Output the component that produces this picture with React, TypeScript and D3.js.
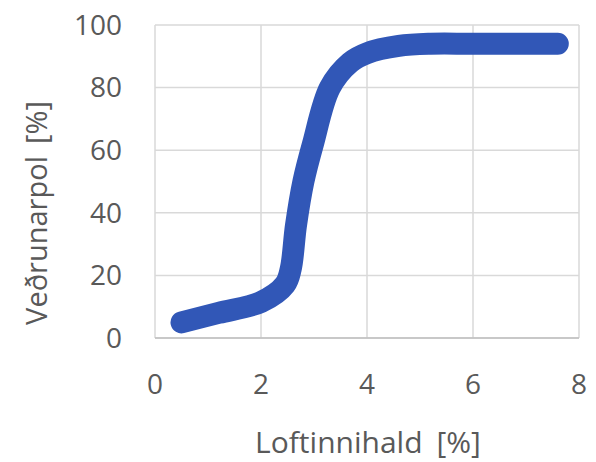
import React from "react";
import * as d3 from "d3";

const airContent = [0.5, 1.2, 2.0, 2.45, 2.56, 2.66, 2.8, 2.98, 3.3, 3.68, 4.0, 4.6, 5.2, 6.0, 7.6];
const weathering = [5, 8, 11.5, 17, 22, 36, 50, 62, 80, 88, 91, 93.3, 94, 94, 94];
const xTicks = [0, 2, 4, 6, 8];
const yTicks = [0, 20, 40, 60, 80, 100];
const xTitle = ["Loftinnihald", "[%]"];
const yTitle = ["Veðrunarpol", "[%]"];

export default function App() {
  const W = 596, H = 462;
  const left = 155, right = 579, top = 25, bottom = 338;
  const x = d3.scaleLinear().domain([0, 8]).range([left, right]);
  const y = d3.scaleLinear().domain([0, 100]).range([bottom, top]);
  const pts: [number, number][] = airContent.map((a, i) => [a, weathering[i]]);
  const line = d3
    .line<[number, number]>()
    .x((d) => x(d[0]))
    .y((d) => y(d[1]))
    .curve(d3.curveCatmullRom.alpha(0.5));
  const font = "'Open Sans', 'DejaVu Sans', sans-serif";
  const textColor = "#595959";
  return (
    <svg
      width={W}
      height={H}
      style={{ position: "absolute", left: 0, top: 0, background: "#fff" }}
      fontFamily={font}
    >
      <rect x={0} y={0} width={W} height={H} fill="#fff" />
      {yTicks.map((t) => (
        <line key={"gy" + t} x1={left} x2={right} y1={y(t)} y2={y(t)} stroke="#d9d9d9" strokeWidth={1.5} />
      ))}
      {xTicks.map((t) => (
        <line key={"gx" + t} x1={x(t)} x2={x(t)} y1={top} y2={bottom} stroke="#d9d9d9" strokeWidth={1.5} />
      ))}
      <line x1={left} x2={right} y1={bottom} y2={bottom} stroke="#bfbfbf" strokeWidth={1.5} />
      {yTicks.map((t) => (
        <text key={"ty" + t} x={122} y={y(t)} dy="0.35em" textAnchor="end" fontSize={28} fill={textColor}>
          {t}
        </text>
      ))}
      {xTicks.map((t) => (
        <text key={"tx" + t} x={x(t)} y={394} textAnchor="middle" fontSize={28} fill={textColor}>
          {t}
        </text>
      ))}
      <text x={368} y={453} textAnchor="middle" fontSize={30} fill={textColor}>
        {xTitle[0]}
        <tspan dx={14}>{xTitle[1]}</tspan>
      </text>
      <text
        transform={`translate(47, 213) rotate(-90)`}
        textAnchor="middle"
        fontSize={29}
        fill={textColor}
      >
        {yTitle[0]}
        <tspan dx={12}>{yTitle[1]}</tspan>
      </text>
      <path
        d={line(pts) || ""}
        fill="none"
        stroke="#3157b7"
        strokeWidth={22}
        strokeLinecap="round"
        strokeLinejoin="round"
      />
    </svg>
  );
}
